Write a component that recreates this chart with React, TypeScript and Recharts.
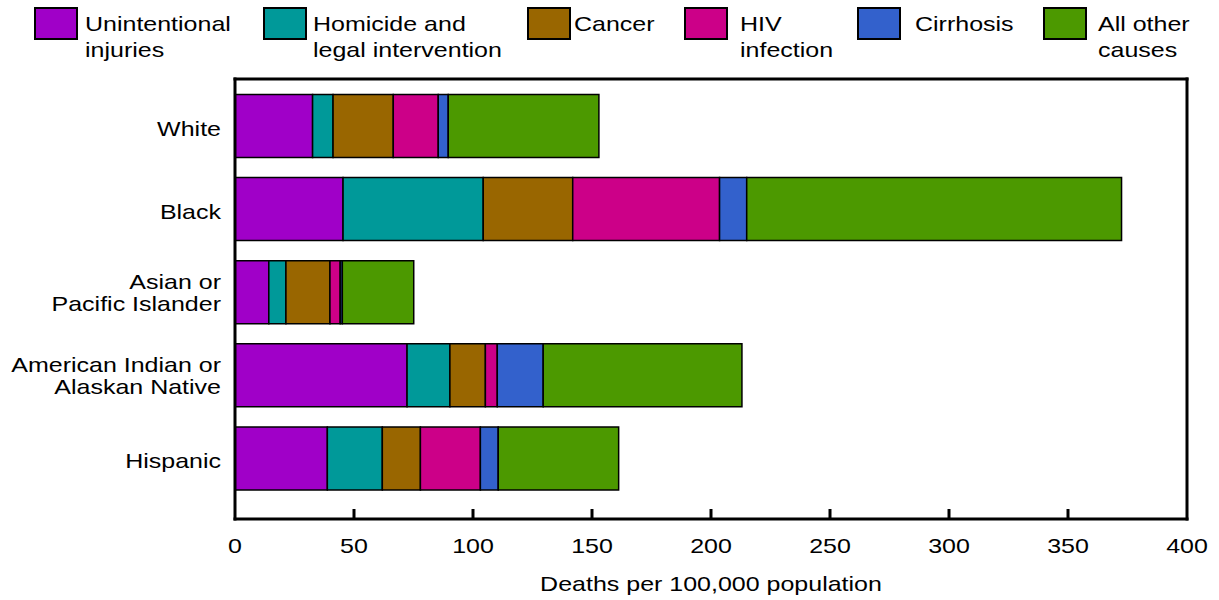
import React from 'react';
import { BarChart, Bar, XAxis, YAxis, Label } from 'recharts';

const categories = [
  'White',
  'Black',
  'Asian or\nPacific Islander',
  'American Indian or\nAlaskan Native',
  'Hispanic',
];
const unintentional = [32.6, 45.4, 14.2, 72.3, 38.8];
const homicide = [8.6, 58.9, 7.2, 18.0, 23.1];
const cancer = [25.3, 37.6, 18.5, 14.9, 16.0];
const hiv = [18.9, 61.7, 4.3, 5.0, 25.2];
const cirrhosis = [4.2, 11.4, 0.9, 19.3, 7.5];
const otherCauses = [63.3, 157.5, 30.0, 83.5, 50.6];

const seriesKeys = ['unintentional', 'homicide', 'cancer', 'hiv', 'cirrhosis', 'other'];
const legendLabels = [
  ['Unintentional', 'injuries'],
  ['Homicide and', 'legal intervention'],
  ['Cancer'],
  ['HIV', 'infection'],
  ['Cirrhosis'],
  ['All other', 'causes'],
];
const colors = ['#A000C8', '#009999', '#996600', '#CC0088', '#3361CC', '#4C9900'];
const xTicks = [0, 50, 100, 150, 200, 250, 300, 350, 400];
const xTitle = 'Deaths per 100,000 population';

const data = categories.map((name, i) => ({
  name,
  unintentional: unintentional[i],
  homicide: homicide[i],
  cancer: cancer[i],
  hiv: hiv[i],
  cirrhosis: cirrhosis[i],
  other: otherCauses[i],
}));

const FONT = '"Liberation Sans", Arial, Helvetica, sans-serif';
const FS = 21;
const SX = 1.19;

const legendSwatchX = [35, 264, 528, 685, 858, 1044];
const legendTextX = [85, 313, 574, 740, 915, 1098];

const Legend6 = () => (
  <svg width={1219} height={75} style={{ position: 'absolute', left: 0, top: 0 }}>
    {seriesKeys.map((k, i) => (
      <g key={k}>
        <rect x={legendSwatchX[i]} y={8} width={42} height={31} fill={colors[i]} stroke="#000" strokeWidth={2} />
        {legendLabels[i].map((line, j) => (
          <text
            key={j}
            transform={`translate(${legendTextX[i]},${31 + j * 26}) scale(${SX},1)`}
            fontFamily={FONT}
            fontSize={FS}
            fill="#000"
          >
            {line}
          </text>
        ))}
      </g>
    ))}
  </svg>
);

const XTick = (props: any) => {
  const { x, y, payload } = props;
  const v = payload.value;
  return (
    <g>
      {v !== 0 && v !== 400 && <line x1={x} x2={x} y1={y - 10} y2={y} stroke="#000" strokeWidth={3} />}
      <text
        transform={`translate(${x},${y + 34}) scale(${SX},1)`}
        textAnchor="middle"
        fontFamily={FONT}
        fontSize={FS}
        fill="#000"
      >
        {v}
      </text>
    </g>
  );
};

const YTick = (props: any) => {
  const { x, y, payload } = props;
  const lines = String(payload.value).split('\n');
  const offsets = lines.length === 1 ? [10] : [-3.5, 18.5];
  return (
    <g>
      {lines.map((line, j) => (
        <text
          key={j}
          transform={`translate(${x - 14},${y + offsets[j]}) scale(${SX},1)`}
          textAnchor="end"
          fontFamily={FONT}
          fontSize={FS}
          fill="#000"
        >
          {line}
        </text>
      ))}
    </g>
  );
};

const XTitle = (props: any) => {
  const vb = props.viewBox || {};
  const cx = vb.x + vb.width / 2;
  return (
    <text
      transform={`translate(${cx},${vb.y + 72}) scale(${SX},1)`}
      textAnchor="middle"
      fontFamily={FONT}
      fontSize={FS}
      fill="#000"
    >
      {xTitle}
    </text>
  );
};

const axisLineStyle = { stroke: '#000', strokeWidth: 3, strokeLinecap: 'square' as const };

export default function App() {
  return (
    <div style={{ position: 'absolute', left: 0, top: 0, width: 1219, height: 600, background: '#fff' }}>
      <BarChart
        width={1219}
        height={600}
        data={data}
        layout="vertical"
        margin={{ top: 78, right: 31, bottom: 0, left: 0 }}
      >
        <XAxis
          type="number"
          domain={[0, 400]}
          ticks={xTicks}
          interval={0}
          tickSize={0}
          tickMargin={0}
          tickLine={false}
          axisLine={axisLineStyle}
          tick={<XTick />}
          height={81}
        >
          <Label content={<XTitle />} />
        </XAxis>
        <XAxis
          xAxisId="top"
          orientation="top"
          type="number"
          domain={[0, 400]}
          ticks={[]}
          tick={false}
          tickLine={false}
          axisLine={axisLineStyle}
          height={1}
        />
        <YAxis
          type="category"
          dataKey="name"
          width={235}
          tickSize={0}
          tickMargin={0}
          tickLine={false}
          interval={0}
          axisLine={axisLineStyle}
          tick={<YTick />}
          padding={{ top: 5.5, bottom: 19 }}
        />
        <YAxis
          yAxisId="right"
          orientation="right"
          type="category"
          dataKey="name"
          tick={false}
          tickLine={false}
          axisLine={axisLineStyle}
          width={1}
        />
        {seriesKeys.map((k, i) => (
          <Bar
            key={k}
            dataKey={k}
            stackId="a"
            fill={colors[i]}
            stroke="#000"
            strokeWidth={1.5}
            barSize={63}
            isAnimationActive={false}
          />
        ))}
      </BarChart>
      <Legend6 />
    </div>
  );
}
